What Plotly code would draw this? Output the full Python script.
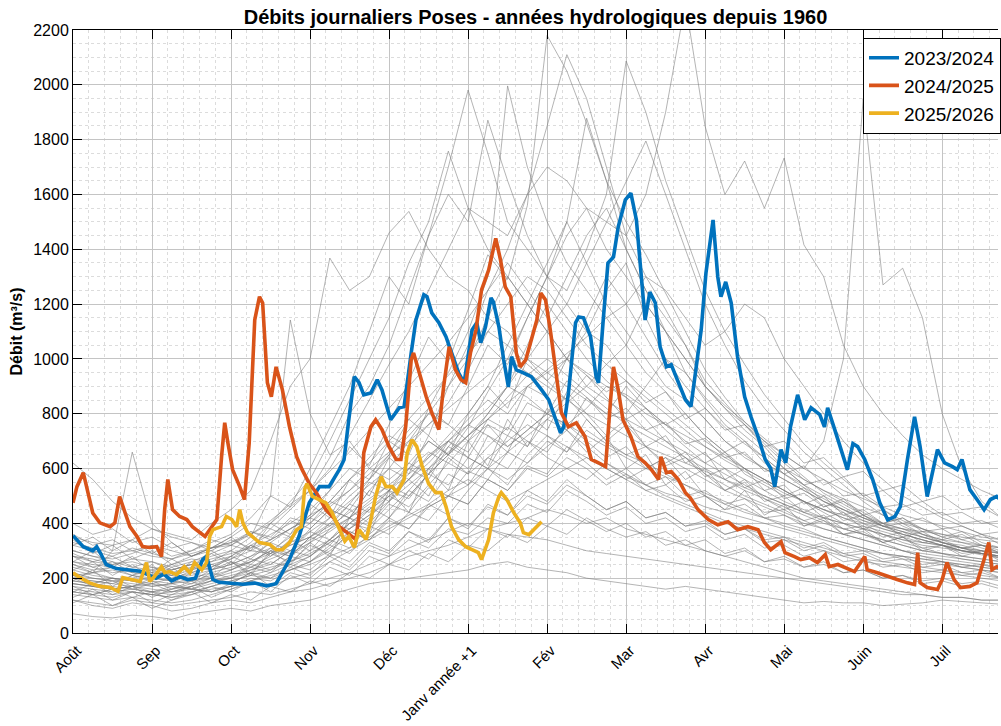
import plotly.graph_objects as go

# Hydrological year: x is expressed in months since 1 August (0 = Août, 11 = Juil)
MONTH_LABELS = ["Août", "Sep", "Oct", "Nov", "Déc", "Janv année +1",
                "Fév", "Mar", "Avr", "Mai", "Juin", "Juil"]

# Historical years since 1960: four readings per month (every quarter month)
HIST_X = [i * 0.25 for i in range(48)]
HIST_YEARS = [
    [260,240,220,230, 210,250,220,240, 270,320,290,360, 430,520,680,610, 760,920,1080,990, 1180,1380,1290,1560, 2180,2050,1860,1650, 1500,1380,1240,1100, 960,860,770,700, 630,570,510,470, 430,390,360,340, 320,300,285,275],
    [200,190,180,210, 190,180,200,220, 240,260,300,280, 350,420,500,560, 650,780,720,900, 1050,1250,1400,1600, 1850,2110,1950,1700, 1450,1300,1180,1050, 920,840,760,690, 620,560,520,480, 440,400,380,350, 330,310,290,280],
    [180,170,160,170, 150,160,170,190, 210,230,250,300, 380,450,420,520, 600,700,800,760, 900,1050,980,1150, 1300,1250,1400,1600, 2087,1900,1650,1450, 1250,1100,980,870, 780,690,620,560, 500,450,410,380, 350,330,310,290],
    [300,280,270,290, 320,300,280,310, 350,400,380,450, 520,640,800,900, 1050,1250,1450,1700, 1981,1750,1500,1400, 1300,1200,1100,1250, 1350,1150,1000,900, 820,750,690,640, 580,540,500,460, 420,390,370,350, 330,320,300,290],
    [220,200,190,180, 170,180,160,190, 200,240,220,280, 330,400,470,560, 700,650,820,950, 1100,1300,1996,1700, 1500,1350,1250,1150, 1050,1200,1100,950, 850,760,700,640, 580,530,490,450, 410,380,360,340, 320,300,290,280],
    [190,180,170,160, 150,170,160,150, 170,200,190,230, 260,300,360,420, 500,560,640,720, 800,900,1050,1200, 1350,1500,1878,1650, 1400,1250,1150,1050, 900,820,740,680, 600,540,480,440, 400,360,330,310, 290,270,260,250],
    [320,300,280,310, 290,270,300,330, 360,420,500,460, 600,750,900,1100, 1300,1200,1450,1600, 1500,1871,1650,1450, 1300,1500,1350,1200, 1100,1000,900,850, 780,700,650,600, 560,520,480,450, 420,400,380,360, 340,330,320,310],
    [250,230,240,220, 210,230,250,240, 280,330,400,480, 560,700,850,1000, 1150,1350,1500,1758, 1550,1400,1300,1200, 1100,1000,950,900, 870,820,760,700, 650,600,560,520, 480,450,420,400, 380,360,340,330, 320,300,290,280],
    [150,140,130,150, 140,130,150,170, 190,210,200,230, 260,310,370,340, 420,500,580,650, 720,800,900,1000, 1100,1200,1350,1500, 1650,1795,1600,1400, 1200,1050,920,820, 740,660,600,540, 480,430,390,360, 330,310,290,270],
    [280,260,250,270, 260,240,260,290, 320,360,410,470, 520,600,720,850, 980,1100,1250,1400, 1550,1500,1450,1600, 1700,1650,1550,1500, 1450,1600,1900,2300, 1848,1600,1722,1550, 1733,1416,1300,1050, 900,800,720,650, 600,560,520,490],
    [200,190,180,170, 180,170,160,180, 200,220,240,260, 300,340,400,450, 520,600,700,650, 750,880,1000,1150, 1300,1450,1550,1400, 1300,1200,1100,1000, 900,820,760,700, 650,600,700,1000, 1950,1270,1331,1150, 800,600,480,420],
    [350,330,320,340, 380,360,340,400, 450,520,700,900, 1000,1368,1250,1300, 1460,1538,1400,1300, 1250,1150,1100,1000, 950,900,850,800, 780,740,700,660, 620,580,540,500, 470,440,410,380, 360,340,320,300, 290,280,270,260],
    [180,170,160,170, 200,190,230,260, 300,350,500,1142, 800,650,700,600, 560,620,700,650, 600,680,750,700, 640,600,560,620, 580,540,500,470, 440,410,390,370, 350,330,310,290, 270,260,250,240, 230,220,210,200],
    [200,220,300,660, 400,330,280,300, 260,240,280,320, 350,400,380,450, 500,560,620,700, 780,850,800,900, 950,1000,1100,1050, 950,880,820,760, 700,650,600,560, 520,480,450,420, 390,370,350,330, 320,310,300,290],
    [120,100,90,110, 100,80,90,110, 120,110,130,150, 160,180,200,220, 250,280,300,320, 350,380,400,420, 450,430,400,420, 380,360,340,320, 300,280,260,240, 220,200,190,180, 170,160,150,140, 130,130,120,120],
    [70,60,55,65, 60,50,70,80, 90,80,100,110, 120,140,160,180, 190,200,210,220, 230,250,260,240, 230,220,200,190, 180,170,160,170, 160,150,140,130, 120,110,115,110, 110,100,105,110, 120,115,110,105],
    [180,170,160,170, 160,150,170,190, 200,230,260,240, 280,340,400,380, 450,520,600,680, 760,820,900,860, 800,760,820,900, 860,780,700,640, 580,540,500,470, 440,410,380,360, 340,320,300,280, 270,260,250,240],
    [240,220,230,210, 200,220,240,230, 250,280,330,380, 420,480,560,640, 720,680,760,840, 960,1100,1050,980, 920,1000,1150,1300, 1200,1080,960,860, 780,700,640,600, 560,520,480,450, 420,390,370,350, 330,310,300,290],
    [160,150,140,150, 140,130,140,160, 170,190,220,250, 280,330,380,430, 500,460,540,620, 700,760,680,740, 800,860,780,700, 650,620,580,540, 500,470,440,420, 400,380,350,330, 310,290,280,270, 260,250,240,230],
    [300,280,260,240, 230,250,270,260, 280,320,360,400, 450,520,600,560, 640,720,800,900, 1000,1150,1300,1200, 1100,1000,900,850, 800,900,1000,950, 860,780,720,660, 600,560,520,490, 460,430,400,380, 360,340,320,310],
    [210,200,190,200, 220,210,190,200, 230,260,300,350, 400,460,520,600, 660,740,820,760, 700,800,900,1050, 1200,1100,1000,920, 860,800,760,720, 680,640,600,560, 520,480,450,420, 400,380,360,340, 320,300,290,280],
    [260,250,240,230, 220,210,230,250, 270,300,290,330, 370,420,480,540, 600,560,650,700, 640,600,560,620, 680,740,680,620, 570,540,510,490, 460,440,420,400, 380,360,340,320, 300,290,280,270, 260,250,240,230],
    [140,130,120,130, 120,110,120,140, 160,180,170,200, 220,260,300,340, 380,420,460,500, 540,600,660,720, 780,840,900,980, 1050,950,880,800, 720,660,600,560, 520,480,440,400, 360,330,300,280, 260,240,230,220],
    [330,310,290,300, 280,270,290,310, 330,360,400,460, 520,590,660,740, 820,900,980,1060, 1150,1250,1350,1250, 1150,1300,1450,1550, 1400,1250,1100,1000, 900,830,770,710, 650,600,560,520, 490,460,430,410, 390,370,350,340],
    [190,180,200,190, 170,180,190,210, 230,260,290,320, 350,390,440,490, 540,600,660,620, 580,640,700,760, 720,680,640,600, 560,600,640,600, 560,520,490,460, 430,400,380,360, 340,320,300,290, 280,270,260,250],
    [170,160,150,160, 150,140,150,170, 190,210,230,260, 290,330,380,430, 480,540,600,660, 720,780,840,900, 960,1020,1080,1150, 1200,1300,1250,1150, 1050,1100,1200,1150, 1000,900,800,700, 620,560,500,460, 420,390,360,340],
    [620,560,480,420, 380,350,330,310, 320,300,340,380, 420,480,560,620, 700,780,860,940, 1020,1100,1200,1300, 1250,1150,1050,980, 920,860,800,740, 680,630,590,550, 510,480,450,430, 410,390,380,370, 360,350,340,330],
    [230,210,200,190, 200,190,180,200, 220,240,270,300, 340,380,420,470, 520,580,640,700, 760,720,680,740, 800,760,720,680, 640,600,570,540, 510,480,450,420, 390,370,350,330, 310,290,270,260, 250,240,230,220],
    [280,270,250,260, 240,230,250,270, 290,310,340,380, 430,470,520,580, 650,700,760,820, 880,940,1000,950, 900,850,800,760, 720,680,650,620, 590,560,530,500, 470,440,420,400, 380,360,340,320, 310,300,290,280],
    [150,140,160,150, 140,150,160,150, 170,190,210,230, 250,280,310,350, 390,430,470,520, 560,520,480,520, 560,600,640,600, 560,520,490,460, 430,400,380,360, 340,320,300,280, 260,250,240,230, 220,210,200,190],
    [210,220,200,190, 180,200,210,230, 250,280,310,290, 330,370,420,480, 540,500,580,650, 720,780,860,940, 1000,940,880,820, 760,720,680,640, 600,560,520,490, 460,430,400,380, 360,340,320,300, 290,280,270,260],
    [120,110,100,120, 110,100,110,120, 130,150,140,160, 180,200,220,250, 280,310,340,370, 400,380,360,350, 340,320,300,290, 280,270,260,250, 240,230,220,210, 200,190,180,170, 160,150,140,140, 130,130,120,120],
    [190,230,170,210, 250,180,220,200, 260,210,300,250, 330,280,420,360, 520,440,600,520, 700,610,780,680, 820,740,660,720, 600,650,540,590, 500,450,520,430, 470,390,420,360, 380,330,350,300, 320,280,300,260],
    [260,300,240,280, 220,270,230,290, 250,320,280,340, 300,380,450,400, 480,560,500,640, 580,720,660,800, 740,880,800,720, 780,680,720,620, 660,560,600,520, 540,470,500,430, 450,400,420,370, 380,340,360,320],
    [150,180,140,170, 130,160,190,150, 180,220,170,240, 210,280,240,320, 290,370,330,420, 380,470,430,520, 480,560,500,450, 480,420,440,390, 410,360,380,330, 340,300,320,280, 290,260,270,240, 250,220,230,200],
    [340,290,320,270, 300,250,280,310, 350,300,400,360, 470,420,560,500, 640,580,720,650, 800,900,820,1000, 920,850,940,860, 780,820,740,680, 620,660,580,540, 500,530,460,490, 430,400,420,380, 350,370,330,310],
    [210,180,200,170, 190,160,180,220, 200,250,230,280, 260,320,290,360, 420,380,470,430, 520,600,540,650, 720,660,780,700, 760,680,620,660, 580,520,560,490, 450,480,420,440, 380,400,350,370, 330,310,320,290],
    [280,240,260,220, 240,210,260,230, 280,250,310,280, 350,320,400,460, 420,520,480,580, 540,640,600,700, 660,760,700,640, 680,600,640,560, 600,520,550,480, 500,440,470,410, 430,390,400,360, 340,360,320,300],
    [130,160,120,150, 110,140,170,130, 160,190,150,210, 180,240,210,280, 250,300,270,340, 310,380,350,420, 390,450,410,370, 400,350,370,320, 340,290,310,260, 280,240,260,220, 230,200,210,180, 190,170,180,160],
    [400,360,380,330, 350,310,330,300, 340,310,380,350, 420,390,470,440, 520,490,580,540, 640,600,720,680, 780,740,860,800, 900,820,760,800, 720,660,700,620, 580,610,540,570, 500,520,460,480, 430,440,400,410],
    [230,260,210,250, 200,240,190,230, 260,220,290,260, 320,290,370,340, 410,380,460,500, 470,560,520,610, 580,680,620,560, 600,540,570,500, 520,470,490,440, 450,410,430,380, 390,350,370,330, 340,310,320,290],
    [170,140,160,130, 150,120,140,170, 150,190,170,220, 200,260,230,300, 280,340,310,380, 360,420,400,470, 440,520,480,430, 460,400,420,370, 390,340,360,310, 320,280,300,260, 270,240,250,220, 230,210,220,200],
    [320,350,300,340, 290,330,280,310, 330,370,340,410, 380,450,420,520, 480,600,560,680, 640,760,720,840, 800,920,860,780, 820,740,770,690, 710,640,660,590, 600,540,560,500, 510,460,470,430, 440,400,410,380],
    [250,220,240,210, 230,200,220,250, 230,270,250,300, 280,340,310,390, 360,440,410,500, 470,560,520,600, 570,640,600,540, 580,520,540,480, 500,450,470,420, 430,390,410,360, 370,330,350,310, 320,290,300,270],
    [110,140,100,130, 90,120,150,110, 140,120,170,150, 190,170,220,200, 250,230,290,260, 320,300,360,330, 390,360,420,380, 350,370,320,340, 300,280,300,260, 270,240,250,220, 230,200,210,190, 200,180,190,170],
    [360,320,340,300, 320,280,300,340, 320,370,350,420, 400,480,450,550, 520,620,580,700, 660,780,740,900, 860,1000,940,880, 920,840,880,780, 820,740,760,680, 700,620,640,570, 590,520,540,480, 500,450,460,420],
    [200,170,190,160, 180,150,170,200, 180,220,200,250, 230,290,260,330, 300,370,340,420, 390,460,430,500, 470,540,500,450, 480,420,440,390, 400,360,380,340, 350,310,330,290, 300,270,280,250, 260,240,250,230],
    [290,260,280,240, 260,230,250,280, 300,270,330,300, 370,340,420,390, 470,440,530,500, 590,560,660,620, 700,660,740,690, 650,680,610,640, 570,600,530,560, 490,510,460,480, 430,450,400,420, 380,390,360,370],
]

# 2023/2024
Y2324_X = [0.00,0.13,0.25,0.30,0.35,0.42,0.55,0.70,0.85,0.97,1.05,1.15,1.25,1.35,1.45,1.55,1.64,1.69,1.77,1.85,2.00,2.15,2.30,2.45,2.57,2.74,2.86,2.99,3.12,3.24,3.37,3.43,3.49,3.56,3.62,3.68,3.77,3.85,3.91,4.02,4.13,4.19,4.28,4.34,4.44,4.48,4.54,4.63,4.72,4.79,4.88,4.95,5.05,5.11,5.16,5.22,5.29,5.32,5.39,5.45,5.51,5.55,5.61,5.70,5.80,5.93,6.02,6.11,6.17,6.21,6.27,6.36,6.40,6.46,6.55,6.62,6.65,6.71,6.77,6.84,6.90,6.99,7.06,7.13,7.19,7.24,7.30,7.37,7.43,7.51,7.57,7.66,7.75,7.82,7.88,7.95,8.01,8.10,8.16,8.20,8.26,8.33,8.41,8.50,8.58,8.67,8.76,8.83,8.88,8.96,9.02,9.08,9.17,9.26,9.34,9.45,9.51,9.55,9.64,9.71,9.80,9.87,9.93,10.02,10.12,10.21,10.31,10.40,10.47,10.56,10.65,10.72,10.81,10.94,11.03,11.13,11.19,11.25,11.35,11.44,11.53,11.61,11.69,11.80]
Y2324_V = [355,315,300,315,290,250,235,230,225,210,200,215,190,205,195,200,268,280,195,185,180,178,182,172,180,268,352,475,534,534,596,632,778,935,913,869,876,924,887,778,822,826,1022,1142,1234,1227,1168,1132,1081,1022,949,913,1106,1132,1059,1117,1223,1208,1117,997,898,1008,960,949,935,887,851,778,730,752,876,1132,1153,1150,1081,935,913,1142,1350,1372,1482,1580,1605,1507,1324,1142,1244,1204,1044,971,979,913,851,826,960,1106,1313,1507,1299,1227,1281,1204,1008,862,789,716,633,600,534,669,621,752,869,778,822,797,752,822,742,680,596,691,680,633,560,475,413,425,461,633,789,680,498,669,621,607,596,633,523,487,450,487,498,470]

# 2024/2025
Y2425_X = [0.00,0.05,0.13,0.18,0.25,0.34,0.47,0.53,0.59,0.66,0.72,0.81,0.88,0.97,1.06,1.12,1.16,1.20,1.26,1.35,1.44,1.51,1.60,1.67,1.73,1.82,1.88,1.92,1.96,2.02,2.11,2.17,2.23,2.30,2.36,2.40,2.46,2.51,2.57,2.65,2.74,2.83,2.90,2.99,3.08,3.20,3.30,3.37,3.47,3.58,3.65,3.68,3.77,3.83,3.91,4.00,4.09,4.15,4.21,4.28,4.31,4.38,4.47,4.54,4.63,4.69,4.76,4.84,4.91,4.97,5.03,5.10,5.17,5.26,5.35,5.41,5.47,5.54,5.61,5.66,5.73,5.79,5.87,5.92,5.98,6.04,6.12,6.18,6.27,6.37,6.48,6.56,6.65,6.74,6.80,6.84,6.90,6.96,7.06,7.15,7.24,7.32,7.41,7.44,7.51,7.57,7.66,7.75,7.81,7.91,8.04,8.16,8.29,8.41,8.54,8.67,8.75,8.83,8.96,9.01,9.13,9.21,9.32,9.42,9.52,9.57,9.68,9.78,9.89,10.02,10.05,10.18,10.31,10.43,10.56,10.65,10.69,10.72,10.81,10.94,11.00,11.06,11.15,11.23,11.35,11.44,11.53,11.59,11.63,11.69,11.80]
Y2425_V = [475,534,585,523,438,402,388,402,498,438,388,352,315,312,315,279,450,560,450,425,414,388,366,352,377,414,643,767,694,596,534,487,694,1142,1227,1204,913,862,971,887,752,643,596,545,512,450,420,388,366,341,498,658,752,778,742,680,633,633,752,997,1022,949,862,804,742,898,1044,960,924,913,1022,1106,1252,1324,1440,1361,1263,1227,1022,971,997,1059,1142,1240,1215,1106,924,804,752,767,716,633,621,607,840,971,887,778,716,643,621,596,560,643,585,589,560,512,494,450,414,395,406,377,388,377,330,304,333,293,279,268,275,257,286,242,250,239,224,279,231,220,206,195,183,177,293,183,166,159,195,257,195,166,170,183,268,330,231,242,230]

# 2025/2026 (year in progress)
Y2526_X = [0.00,0.09,0.21,0.34,0.47,0.57,0.63,0.72,0.85,0.93,0.97,1.03,1.12,1.16,1.22,1.31,1.41,1.48,1.54,1.63,1.69,1.73,1.77,1.88,1.94,2.01,2.07,2.11,2.15,2.21,2.27,2.36,2.49,2.57,2.65,2.74,2.83,2.89,2.93,2.96,3.03,3.12,3.20,3.28,3.36,3.44,3.49,3.56,3.62,3.71,3.77,3.83,3.90,3.96,4.04,4.10,4.19,4.23,4.29,4.35,4.42,4.50,4.59,4.66,4.72,4.79,4.88,4.97,5.05,5.13,5.17,5.26,5.32,5.39,5.42,5.49,5.58,5.66,5.70,5.77,5.83,5.87,5.93]
Y2526_V = [220,202,183,170,166,152,202,195,188,257,188,206,242,220,224,213,242,220,257,231,257,352,377,388,425,414,388,450,402,366,352,330,323,304,304,330,377,388,523,545,498,487,475,438,388,335,352,312,377,341,414,498,570,534,534,512,560,658,705,680,607,545,512,512,461,388,341,315,304,293,268,341,438,498,512,487,438,402,366,359,377,388,406]

FONT = "Liberation Sans, Arial, Helvetica, sans-serif"

fig = go.Figure()

for vals in HIST_YEARS:
    fig.add_trace(go.Scatter(
        x=HIST_X, y=vals, mode="lines",
        line=dict(color="rgba(120,120,120,0.8)", width=0.7),
        showlegend=False, hoverinfo="skip",
    ))

for name, xs, vs, col in [
    ("2023/2024", Y2324_X, Y2324_V, "#0072BD"),
    ("2024/2025", Y2425_X, Y2425_V, "#D95319"),
    ("2025/2026", Y2526_X, Y2526_V, "#EDB120"),
]:
    fig.add_trace(go.Scatter(
        x=xs, y=vs, mode="lines", name=name,
        line=dict(color=col, width=3.6),
    ))

fig.update_layout(
    width=1001, height=726,
    margin=dict(l=73, r=0, t=30, b=93),
    paper_bgcolor="white", plot_bgcolor="white",
    font=dict(family=FONT, color="black", size=16),
    title=dict(
        text="<b>Débits journaliers Poses - années hydrologiques depuis 1960</b>",
        x=0.5, xref="paper", xanchor="center",
        y=1 - 17 / 726, yref="container", yanchor="middle",
        font=dict(size=20, color="black"),
    ),
    legend=dict(
        x=0.8545, y=0.987, xanchor="left", yanchor="top",
        bgcolor="white", bordercolor="black", borderwidth=1,
        font=dict(size=19, color="black"),
        itemwidth=30, tracegroupgap=0,
    ),
    showlegend=True,
)

fig.update_xaxes(
    range=[0, 11.706], automargin=False,
    tickmode="array", tickvals=list(range(12)), ticktext=MONTH_LABELS,
    tickangle=-45, tickfont=dict(size=15),
    ticklabelstandoff=2, ticklabelshift=4,
    showgrid=True, gridcolor="#c4c4c4", gridwidth=1,
    minor=dict(dtick=0.2, showgrid=True, gridcolor="#dcdcdc", griddash="dot", gridwidth=1),
    showline=True, linecolor="black", linewidth=1, mirror="allticks",
    ticks="inside", ticklen=9, tickcolor="black", tickwidth=1,
    zeroline=False,
)
fig.update_yaxes(
    range=[0, 2200], dtick=200, automargin=False,
    tickfont=dict(size=16),
    title=dict(text="<b>Débit (m³/s)</b>", font=dict(size=16), standoff=6),
    showgrid=True, gridcolor="#c4c4c4", gridwidth=1,
    minor=dict(dtick=50, showgrid=True, gridcolor="#dcdcdc", griddash="dot", gridwidth=1),
    showline=True, linecolor="black", linewidth=1,
    ticks="inside", ticklen=9, tickcolor="black", tickwidth=1,
    zeroline=False,
)

fig.write_html("out.html")
